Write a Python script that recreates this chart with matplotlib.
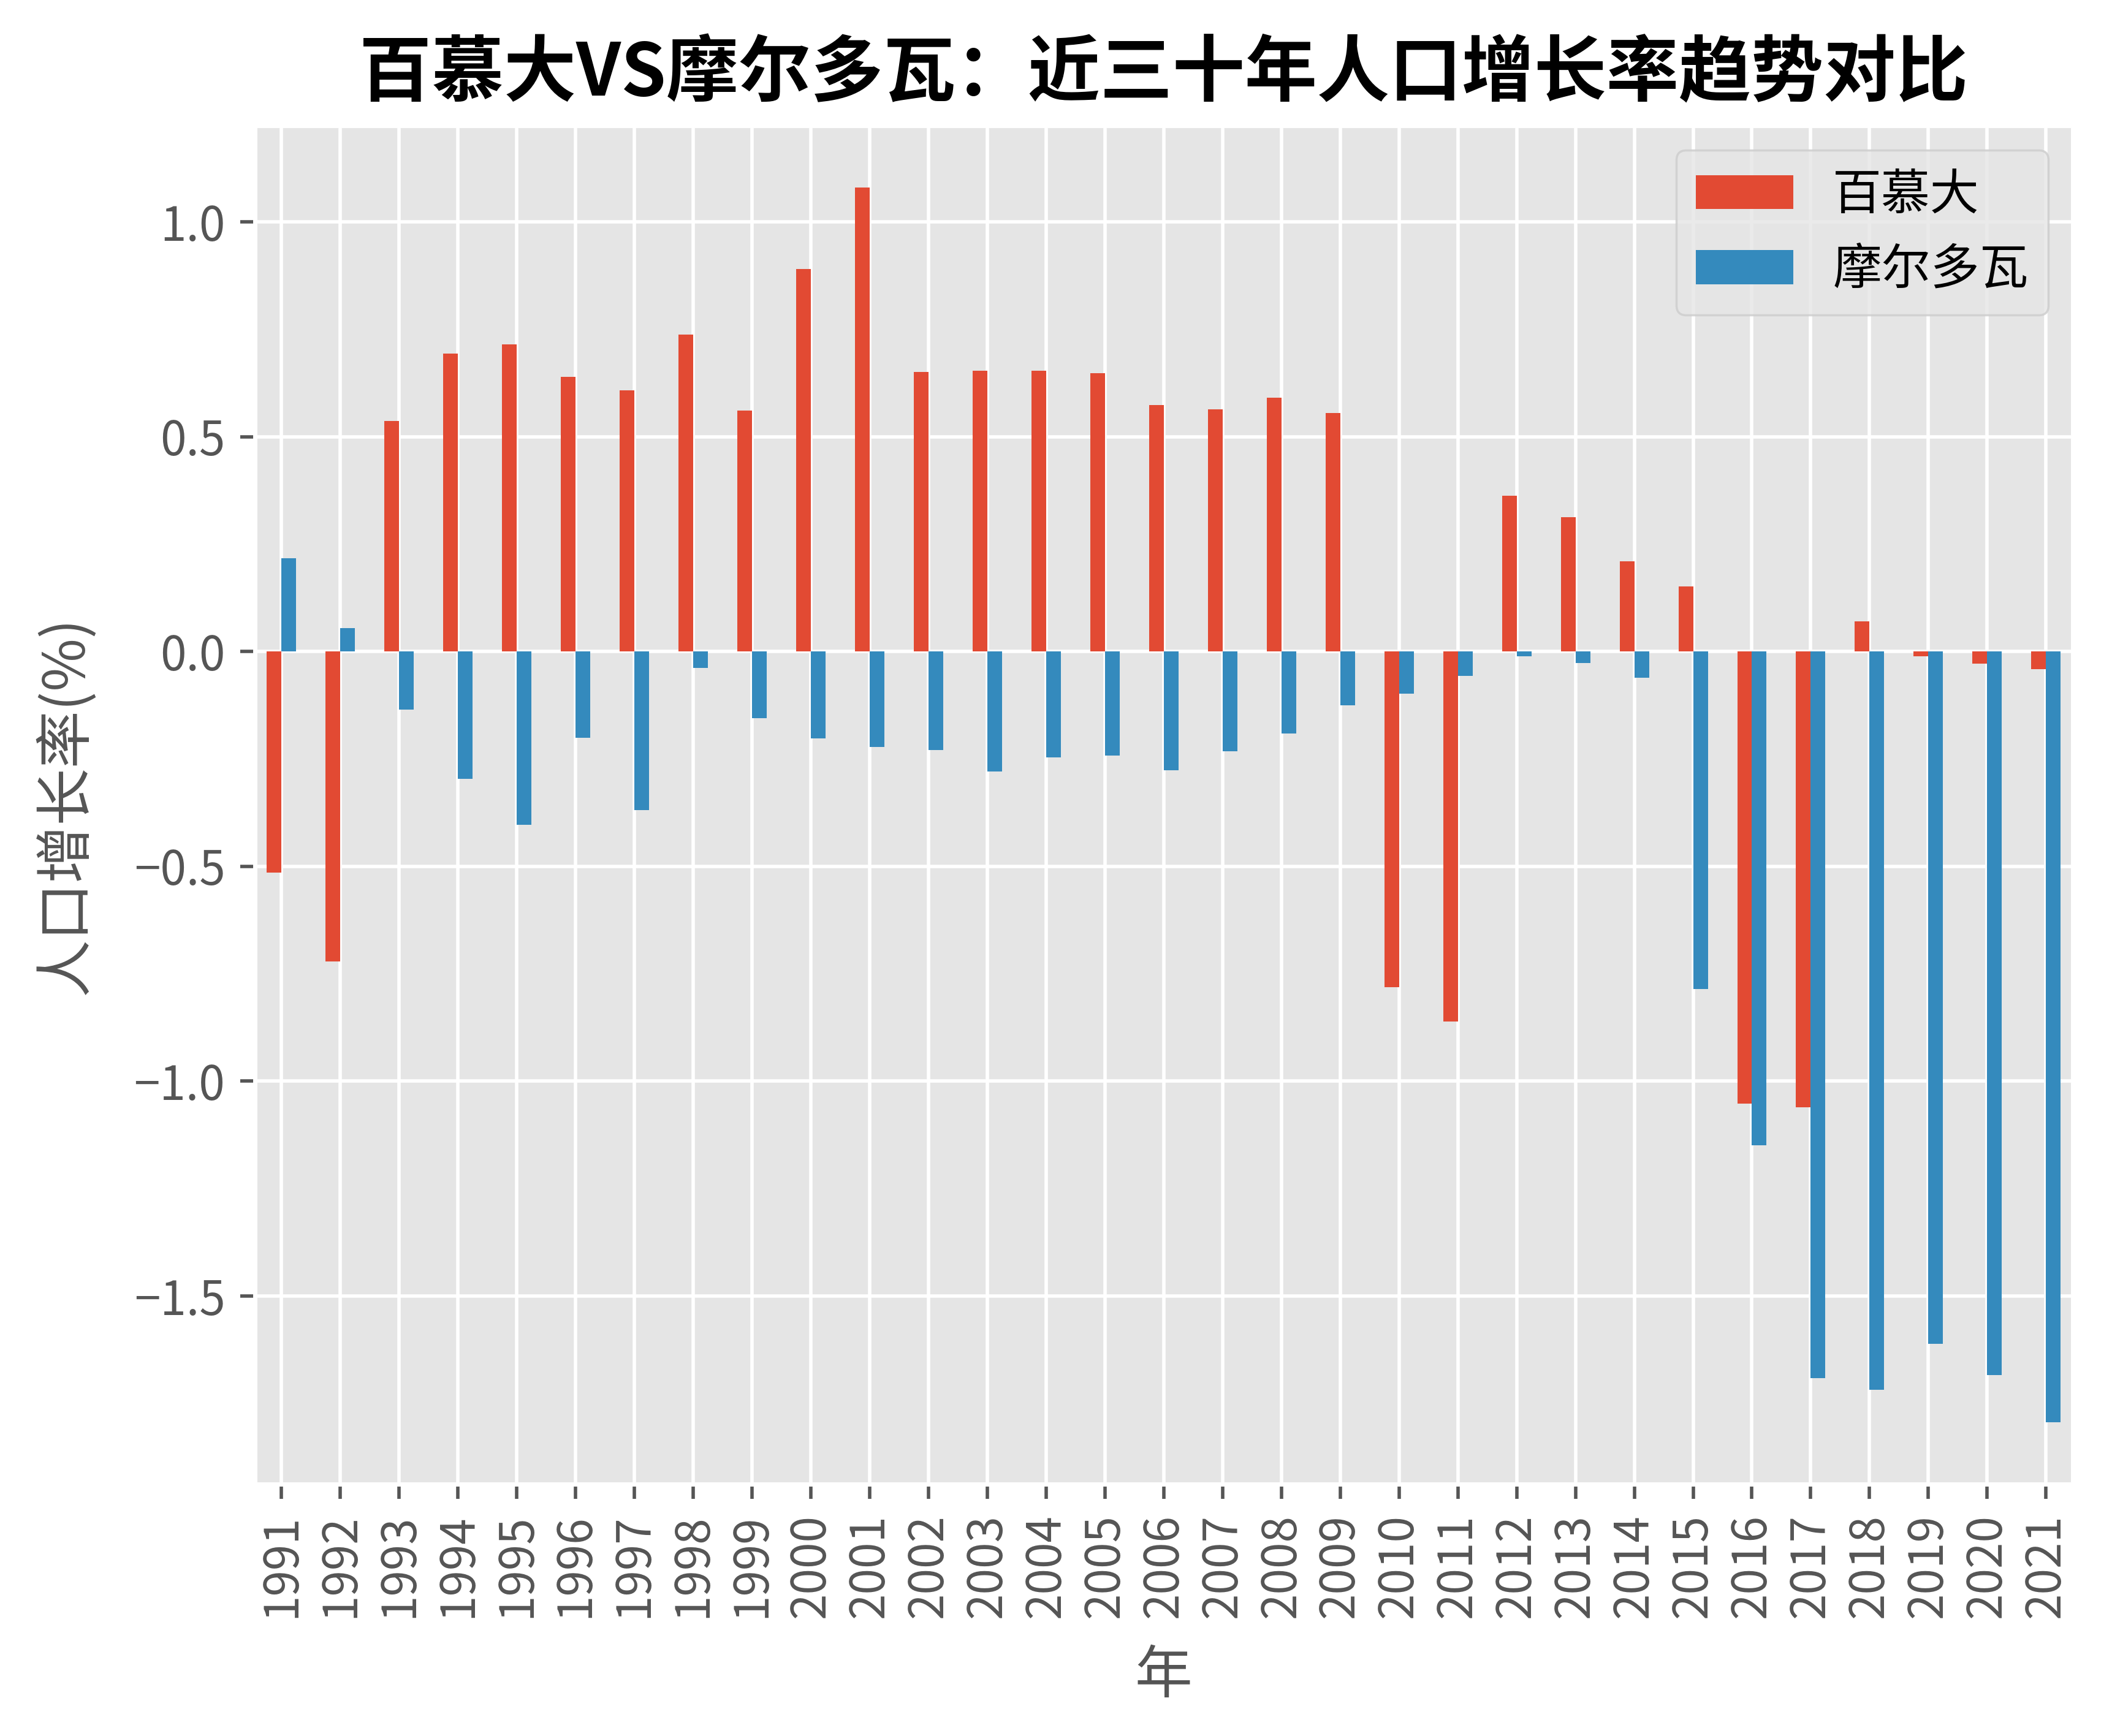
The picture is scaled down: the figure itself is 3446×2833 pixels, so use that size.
import numpy as np
import matplotlib
matplotlib.use("Agg")
import matplotlib.pyplot as plt

plt.style.use("ggplot")
plt.rcParams["font.family"] = ["Noto Sans CJK SC", "DejaVu Sans"]
plt.rcParams["axes.unicode_minus"] = True

# 年份与两地人口增长率 (%)
years = [str(y) for y in range(1991, 2022)]
bermuda = [-0.515, -0.722, 0.536, 0.693, 0.715, 0.639, 0.608, 0.737, 0.561, 0.890,
           1.080, 0.651, 0.654, 0.654, 0.647, 0.574, 0.564, 0.591, 0.555, -0.782,
           -0.861, 0.362, 0.313, 0.210, 0.152, -1.052, -1.061, 0.070, -0.011, -0.028,
           -0.041]
moldova = [0.217, 0.054, -0.135, -0.297, -0.404, -0.201, -0.369, -0.039, -0.156, -0.203,
           -0.222, -0.229, -0.280, -0.246, -0.242, -0.276, -0.232, -0.191, -0.126, -0.099,
           -0.057, -0.012, -0.027, -0.061, -0.786, -1.149, -1.692, -1.719, -1.611, -1.684,
           -1.794]
series_names = ["百慕大", "摩尔多瓦"]

fig = plt.figure(figsize=(6.892, 5.666), dpi=500)
ax = fig.add_axes([0.1207, 0.1452, 0.8606, 0.7824])

x = np.arange(len(years))
w = 0.25
ax.bar(x - w / 2, bermuda, width=w, color="#E24A33", label=series_names[0])
ax.bar(x + w / 2, moldova, width=w, color="#348ABD", label=series_names[1])

ax.set_xticks(x)
ax.set_xticklabels(years, rotation=90)
ax.set_xlim(-0.45, len(years) - 1 + 0.45)
ax.set_yticks([-1.5, -1.0, -0.5, 0.0, 0.5, 1.0])
ax.tick_params(axis="both", labelsize=11)

ax.set_title("百慕大VS摩尔多瓦：近三十年人口增长率趋势对比", fontsize=17,
             fontweight="bold", color="black", pad=7)
ax.set_xlabel("年", fontsize=13.5, labelpad=7)
ax.set_ylabel("人口增长率(%)", fontsize=13.5, labelpad=9)
ax.legend(loc="upper right", fontsize=11.5)

fig.savefig("out.png", dpi=500)
